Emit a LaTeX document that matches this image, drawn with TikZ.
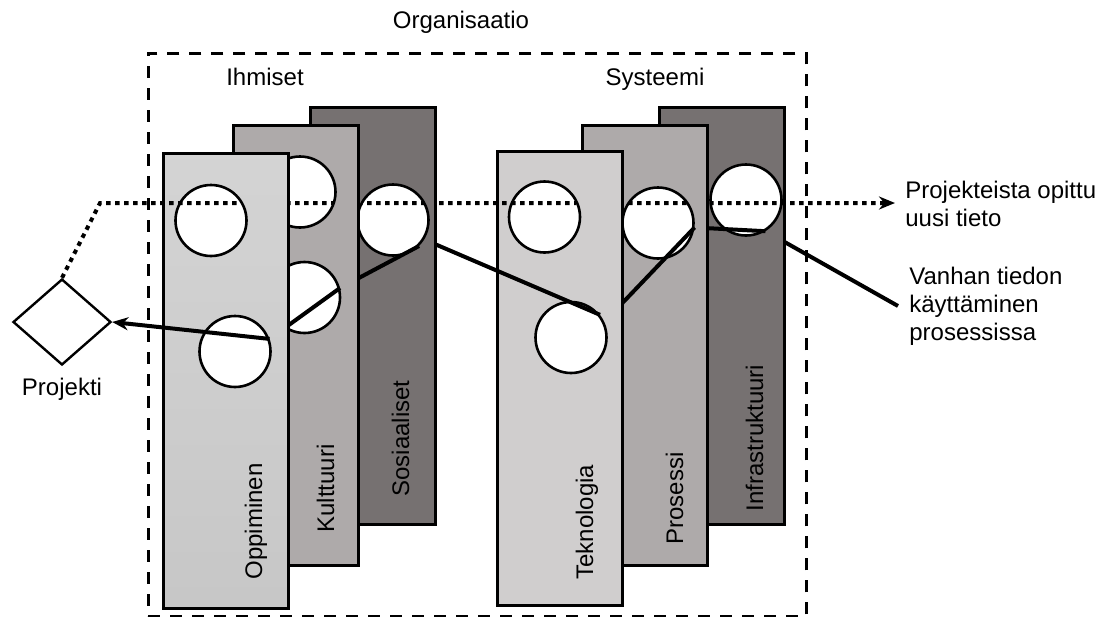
\documentclass[tikz,border=0pt]{standalone}
\usepackage{fontspec}
\setmainfont{Liberation Sans}
\usetikzlibrary{arrows.meta,positioning,shapes.geometric}
\definecolor{lightpanel}{HTML}{D0CECE}
\definecolor{midpanel}{HTML}{AEAAAA}
\definecolor{darkpanel}{HTML}{767171}
\tikzset{
  panel/.style={draw, line width=1.3pt, minimum width=62.5pt, anchor=north west, inner sep=0pt},
  hole/.style={circle, draw, line width=1.3pt, fill=white, minimum size=35.5pt, inner sep=0pt},
  lbl/.style={font=\fontsize{12}{14}\selectfont},
  panellbl/.style={lbl, rotate=90, anchor=base west, inner sep=0pt},
  oldknow/.style={line width=2pt},
  newknow/.style={line width=2pt, dash pattern=on 2.2pt off 2.3pt},
  orgbox/.style={draw, line width=1.4pt, dash pattern=on 6pt off 5pt, anchor=north west, inner sep=0pt},
}
% route of the new knowledge, from the project out to the right
\newcommand{\learnpath}{(dia.north) -- (bend) -- (bend -| new.west)}

\begin{document}
\begin{tikzpicture}[x=0.5pt, y=-0.5pt]
\useasboundingbox (0,0) rectangle (1116,617);

% frame and headings
\node[orgbox, minimum width=329pt, minimum height=281.5pt] (org) at (147,52) {};
\node[lbl, anchor=base] (orgT) at (461,28) {Organisaatio};
\node[lbl, anchor=base] (ihm) at (265,85) {Ihmiset};
\node[lbl, anchor=base] (sys) at (655,85) {Systeemi};

% project and the outside labels
\node[diamond, draw, line width=1.2pt, minimum width=49pt, minimum height=43pt, inner sep=0pt] (dia) at (62,322) {};
\node[lbl, below=2.5pt of dia] (proj) {Projekti};
\node[lbl, align=left, anchor=west, inner xsep=5pt] (new) at (895,204) {Projekteista opittu\\uusi tieto};
\node[lbl, align=left, anchor=west, inner xsep=5.5pt] (old) at (898,306) {Vanhan tiedon\\käyttäminen\\prosessissa};
\coordinate (bend) at (100,203);

% Ihmiset, back to front
\node[panel, fill=darkpanel, minimum height=208.5pt] (sos) at (309,106) {};
\node[hole] (s1) at (393,220) {};
\begin{scope} \clip (s1) circle (35.5); \draw[newknow] \learnpath; \end{scope}
\node[panellbl] (sosT) at (409,497) {Sosiaaliset};

\node[panel, fill=midpanel, minimum height=220pt] (kul) at (232,124) {};
\node[hole] (k1) at (300,192) {};
\node[hole] (k2) at (304.5,297.5) {};
\begin{scope} \clip (k1) circle (35.5); \draw[newknow] \learnpath; \end{scope}
\node[panellbl] (kulT) at (334,533) {Kulttuuri};

\node[panel, top color=black!17, bottom color=black!22, minimum height=227.5pt] (opp) at (162,152) {};
\node[hole] (o1) at (211,220.5) {};
\node[hole] (o2) at (235,351.5) {};
\node[panellbl] (oppT) at (262,580) {Oppiminen};

% Systeemi, back to front
\node[panel, fill=darkpanel, minimum height=208.5pt] (inf) at (658,106) {};
\node[hole] (i1) at (746,200) {};
\begin{scope} \clip (i1) circle (35.5); \draw[newknow] \learnpath; \end{scope}
\node[panellbl] (infT) at (763,512) {Infrastruktuuri};

\node[panel, fill=midpanel, minimum height=220pt] (pro) at (581,124) {};
\node[hole] (p1) at (658,223) {};
\begin{scope} \clip (p1) circle (35.5); \draw[newknow] \learnpath; \end{scope}
\node[panellbl] (proT) at (683,545) {Prosessi};

\node[panel, fill=lightpanel, minimum height=227pt] (tek) at (496,150) {};
\node[hole] (t1) at (544.5,217) {};
\node[hole] (t2) at (571,337.5) {};
\node[panellbl] (tekT) at (593,580) {Teknologia};

% new knowledge where it runs in front of the panels
\begin{scope}
\clip (0,0) rectangle (241,617) (434,0) rectangle (576,617) (782,0) rectangle (1116,617);
\draw[newknow, -{Stealth[length=8pt,width=6.5pt]}] \learnpath;
\end{scope}

% old knowledge, threaded from hole to hole
\begin{scope} \clip (opp.north east) rectangle (1116,617); \draw[oldknow] (o2.20) -- (k2.15); \end{scope}
\begin{scope} \clip (kul.north east) rectangle (1116,617); \draw[oldknow] (k2.15) -- (s1.-45); \end{scope}
\begin{scope} \clip (sos.north east) rectangle (1116,617); \draw[oldknow] (s1.-32) -- (t2.38); \end{scope}
\begin{scope} \clip (tek.north east) rectangle (1116,617); \draw[oldknow] (t2.25) -- (p1.-7); \end{scope}
\begin{scope} \clip (pro.north east) rectangle (1116,617); \draw[oldknow] (p1.-7) -- (i1.-58); \end{scope}
\begin{scope} \clip (inf.north east) rectangle (1116,617); \draw[oldknow] (i1.-58) -- (old.west); \end{scope}
\draw[oldknow, -{Stealth[length=8pt,width=6.5pt]}] (o2.20) -- (dia.east);
\end{tikzpicture}
\end{document}
